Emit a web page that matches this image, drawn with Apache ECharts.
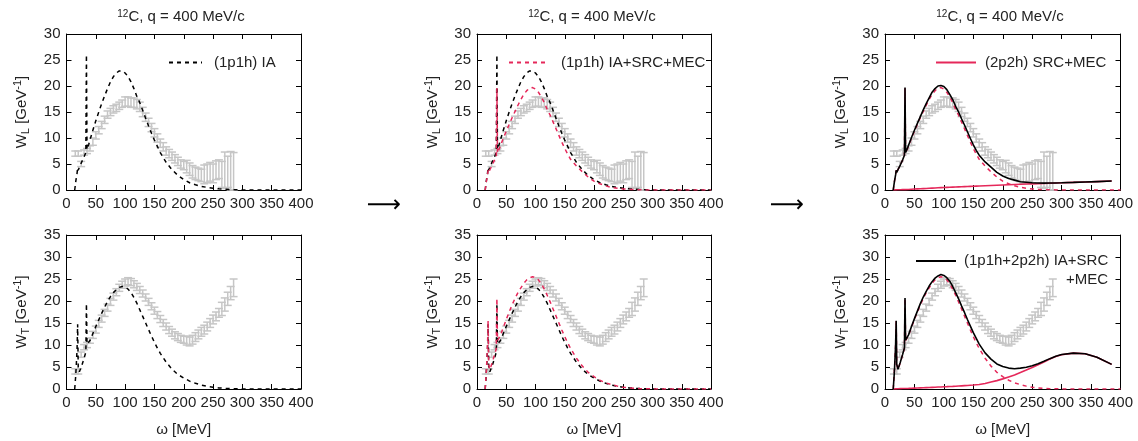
<!DOCTYPE html>
<html><head><meta charset="utf-8">
<script src="https://cdn.jsdelivr.net/npm/echarts/dist/echarts.min.js"></script>
<style>html,body{margin:0;padding:0;background:#fff}#c{width:1138px;height:441px}</style>
</head><body><div id="c"></div>
<script>
// ---------- DATA ----------
const omegaTheory = [14,16,18,19,20,22,26,30,33,34,35,38,40,45,50,55,60,65,70,75,80,85,90,95,100,105,110,115,120,125,130,135,140,145,150,155,160,170,180,190,200,210,220,230,240,250,260,270,280,290,300,320,340,360,385,400];

// W_L, (1p1h) IA  (black dashed)
const wlIA = [0,1.8,3.2,4.3,3.8,4.4,5.4,6.4,7.2,26,7.8,8.8,9.6,11.5,13.3,15,16.6,18.1,19.5,20.8,21.8,22.5,22.9,22.9,22.5,21.8,20.8,19.5,18,16.8,15.3,13.8,12.3,10.9,9.6,8.4,7.2,5.3,3.9,2.8,2.0,1.4,1.0,0.7,0.5,0.35,0.22,0.14,0.08,0.04,0.02,0,0,0,0,0];
// W_L, (1p1h) IA+SRC+MEC  (red dashed)
const wl1p1h = [0,1.6,2.9,3.8,3.4,3.9,4.8,5.8,6.6,19.6,7.1,7.9,8.5,10,11.3,12.6,13.9,15.1,16.3,17.4,18.4,19.1,19.6,19.7,19.4,18.8,17.9,16.8,15.5,14.4,13.1,11.8,10.5,9.2,8.0,6.9,5.9,4.6,3.5,2.5,1.7,1.2,0.8,0.5,0.35,0.2,0.12,0.07,0.04,0.02,0.01,0,0,0,0,0];
// W_L, (2p2h) SRC+MEC  (red solid)
const wl2p2h = [0,0.02,0.03,0.03,0.04,0.04,0.06,0.07,0.08,0.08,0.08,0.09,0.1,0.14,0.18,0.21,0.24,0.27,0.3,0.33,0.36,0.39,0.42,0.45,0.47,0.5,0.52,0.55,0.57,0.6,0.62,0.65,0.67,0.7,0.72,0.75,0.77,0.82,0.87,0.92,0.97,1.02,1.06,1.1,1.14,1.18,1.22,1.26,1.3,1.34,1.38,1.46,1.54,1.62,1.73,null];
// W_L, (1p1h+2p2h) total  (black solid)
const wlTotal = [0,1.6,2.9,3.8,3.4,3.9,4.8,5.8,6.7,19.7,7.2,8.0,8.6,10.1,11.5,12.8,14.1,15.4,16.6,17.7,18.8,19.5,20.0,20.1,19.9,19.3,18.4,17.4,16.1,15.0,13.7,12.5,11.2,9.9,8.7,7.6,6.7,5.4,4.4,3.4,2.7,2.2,1.9,1.6,1.5,1.38,1.34,1.33,1.34,1.36,1.39,1.46,1.54,1.62,1.73,null];

// W_T, (1p1h) IA  (black dashed)
const wtIA = [0,3.5,9,14.7,5,3.9,5.3,7.0,8.4,19.4,10.2,10.2,11.0,12.6,14.2,15.7,17.2,18.6,19.9,21.0,21.9,22.6,23.1,23.3,23.2,22.7,21.9,20.8,19.5,18.0,16.5,15.0,13.5,12.0,10.6,9.3,8.1,6.1,4.5,3.3,2.5,1.8,1.3,0.9,0.6,0.4,0.25,0.15,0.08,0.04,0.02,0,0,0,0,0];
// W_T, (1p1h) IA+SRC+MEC  (red dashed)
const wt1p1h = [0,4,10,15.5,5.5,4.4,6,7.8,9.2,20.6,11,11.2,12.2,14,15.8,17.5,19.1,20.6,21.9,23.0,24.0,24.8,25.3,25.5,25.3,24.8,23.9,22.7,21.3,19.8,18.2,16.6,15.0,13.4,11.9,10.5,9.2,7.0,5.2,3.8,2.8,2.0,1.4,1.0,0.65,0.4,0.25,0.15,0.08,0.04,0.02,0,0,0,0,0];
// W_T, (2p2h) SRC+MEC  (red solid)
const wt2p2h = [0,0.02,0.03,0.04,0.05,0.06,0.08,0.1,0.11,0.12,0.12,0.13,0.14,0.17,0.2,0.23,0.26,0.29,0.32,0.35,0.38,0.41,0.44,0.47,0.5,0.53,0.57,0.6,0.64,0.68,0.72,0.76,0.8,0.85,0.9,0.96,1.02,1.25,1.6,1.9,2.3,2.75,3.2,3.75,4.3,4.9,5.5,6.15,6.8,7.4,7.8,8.15,8.0,7.2,5.6,null];
// W_T, (1p1h+2p2h) total  (black solid)
const wtTotal = [0,4,10,15.5,5.6,4.5,6.1,7.9,9.3,20.7,11.1,11.3,12.3,14.2,16.0,17.7,19.4,20.9,22.2,23.4,24.4,25.2,25.7,26.0,25.8,25.3,24.5,23.3,21.9,20.5,18.9,17.4,15.8,14.3,12.8,11.5,10.2,8.2,6.8,5.7,5.1,4.75,4.6,4.75,4.95,5.3,5.75,6.3,6.9,7.45,7.85,8.15,8.0,7.2,5.6,null];

// Experimental data (grey error bars)
const omegaData = [15,20,25,30,35,40,45,50,55,60,65,70,75,80,85,90,95,100,105,110,115,120,125,130,135,140,145,150,155,160,165,170,175,180,185,190,195,200,205,210,215,220,225,230,235,240,245,250,255,260,265,270,275,280,285];
const wlData = [7.0,7.0,5.0,7.2,7.5,8.0,9.3,10.5,11.5,12.5,13.5,14.5,15.0,15.5,15.8,16.2,16.6,17.0,17.0,16.8,16.8,16.5,16.0,15.0,14.0,13.0,12.0,11.0,10.0,9.0,8.3,7.5,7.0,6.5,6.0,5.5,5.0,4.7,4.5,4.0,3.5,3.2,3.0,2.8,3.0,3.2,3.5,3.2,3.8,4.0,3.0,3.8,3.5,3.6,3.2];
const wlErr  = [0.5,0.5,0.5,0.5,0.5,0.5,0.7,0.7,0.7,0.7,0.7,0.7,0.7,0.7,0.7,0.7,0.7,0.9,0.9,0.9,0.9,0.9,0.9,0.9,0.8,0.8,0.8,0.8,0.8,0.8,0.8,0.8,0.8,0.8,0.8,0.8,0.8,0.8,1.2,1.2,1.2,1.2,1.2,1.2,1.8,1.8,1.8,1.8,1.8,1.8,2.5,3.5,3.0,3.8,4.0];
const wtData = [4.0,4.0,7.8,9.5,10.0,11.0,12.3,13.5,14.8,16.0,17.3,18.5,19.8,21.0,22.0,23.0,23.7,24.2,24.5,24.3,23.8,23.2,22.5,21.7,20.8,19.8,18.8,17.8,16.8,15.9,15.0,14.2,13.4,12.8,12.2,11.8,11.4,11.2,11.0,10.8,11.2,11.8,12.4,13.0,13.5,14.2,15.0,15.8,16.5,17.3,18.2,19.2,20.5,21.8,23.0];
const wtErr  = [0.6,0.6,0.6,0.6,0.6,0.6,0.8,0.8,0.8,0.8,0.8,0.8,0.8,0.8,0.8,0.8,0.8,0.8,0.8,0.8,0.8,0.8,0.8,0.8,0.8,0.8,0.8,0.8,0.8,0.8,0.8,0.8,0.8,0.8,0.8,0.8,0.8,0.8,1.0,1.0,1.0,1.0,1.0,1.0,1.0,1.0,1.0,1.0,1.0,1.0,1.5,1.5,1.5,1.5,2.0];

const xTickStep = 50, xMax = 400;
const yMaxL = 30, yMaxT = 35, yTickStep = 5;

// ---------- STYLE / LAYOUT ----------
const FONT = '"Liberation Sans", Arial, sans-serif';
const FS = 15;
const TXT = '#222';
const RED = '#e5285a';
const GREY = '#c6c6c6';
const GRIDS = [
  {left:66.5, top:34, width:234.5, height:156},
  {left:66.5, top:235, width:234.5, height:154},
  {left:477, top:34, width:234, height:156},
  {left:477, top:235, width:234, height:154},
  {left:885, top:34, width:235.5, height:156},
  {left:885, top:235, width:235.5, height:154}
];

const pairs = (xs, ys) => xs.map((x, i) => [x, ys[i]]);

const xAxes = [], yAxes = [];
GRIDS.forEach((g, i) => {
  const isBottom = i % 2 === 1;
  const common = {gridIndex:i, type:'value', splitLine:{show:false},
    axisLine:{show:true, onZero:false, lineStyle:{color:'#000', width:1}},
    axisTick:{show:true, inside:true, length:5, lineStyle:{color:'#000', width:1}}};
  xAxes.push(Object.assign({}, common, {position:'bottom', min:0, max:xMax, interval:xTickStep,
    axisLabel:{color:TXT, fontSize:FS, fontFamily:FONT, margin:6},
    name: isBottom ? 'ω [MeV]' : '', nameLocation:'middle', nameGap:33,
    nameTextStyle:{color:TXT, fontSize:FS, fontFamily:FONT}}));
  xAxes.push(Object.assign({}, common, {position:'top', min:0, max:xMax, interval:xTickStep, axisLabel:{show:false}}));
  const ymax = isBottom ? yMaxT : yMaxL;
  yAxes.push(Object.assign({}, common, {position:'left', min:0, max:ymax, interval:yTickStep,
    axisLabel:{color:TXT, fontSize:FS, fontFamily:FONT, margin:6},
    name: isBottom ? 'W{sub|T} [GeV{sup|-1}]' : 'W{sub|L} [GeV{sup|-1}]',
    nameLocation:'middle', nameRotate:90, nameGap:35,
    nameTextStyle:{color:TXT, fontSize:FS, fontFamily:FONT, lineHeight:19,
      rich:{sub:{fontSize:11, fontFamily:FONT, color:TXT, lineHeight:11, verticalAlign:'bottom'},
            sup:{fontSize:11, fontFamily:FONT, color:TXT, lineHeight:11, verticalAlign:'top'}}}}));
  yAxes.push(Object.assign({}, common, {position:'right', min:0, max:ymax, interval:yTickStep, axisLabel:{show:false}}));
});

function errSeries(g, vals, errs) {
  return {
    type:'custom', name:'data'+g, xAxisIndex:2*g, yAxisIndex:2*g, silent:true, z:1,
    data: omegaData.map((x, i) => [x, vals[i], errs[i]]),
    renderItem: (params, api) => {
      const x = api.value(0), y = api.value(1), e = api.value(2);
      const p1 = api.coord([x, Math.max(0, y - e)]);
      const p2 = api.coord([x, y + e]);
      const hw = 4;
      const style = {stroke:GREY, lineWidth:1.5};
      return {type:'group', children:[
        {type:'line', shape:{x1:p1[0], y1:p1[1], x2:p2[0], y2:p2[1]}, style},
        {type:'line', shape:{x1:p1[0]-hw, y1:p1[1], x2:p1[0]+hw, y2:p1[1]}, style},
        {type:'line', shape:{x1:p2[0]-hw, y1:p2[1], x2:p2[0]+hw, y2:p2[1]}, style}
      ]};
    }
  };
}
function lineSeries(name, g, ys, color, dashed, width, z) {
  return {type:'line', name, xAxisIndex:2*g, yAxisIndex:2*g, data:pairs(omegaTheory, ys),
    symbol:'none', showSymbol:false, silent:true, z:z, connectNulls:false,
    lineStyle:{color, width, type: dashed ? [4,4] : 'solid'}, itemStyle:{color}};
}

const series = [
  errSeries(0, wlData, wlErr), errSeries(1, wtData, wtErr),
  errSeries(2, wlData, wlErr), errSeries(3, wtData, wtErr),
  errSeries(4, wlData, wlErr), errSeries(5, wtData, wtErr),
  lineSeries('(1p1h) IA', 0, wlIA, '#000', true, 1.5, 3),
  lineSeries('IA T 1', 1, wtIA, '#000', true, 1.5, 3),
  lineSeries('IA L 2', 2, wlIA, '#000', true, 1.5, 3),
  lineSeries('(1p1h) IA+SRC+MEC', 2, wl1p1h, RED, true, 1.5, 4),
  lineSeries('IA T 2', 3, wtIA, '#000', true, 1.5, 3),
  lineSeries('1p1h T 2', 3, wt1p1h, RED, true, 1.5, 4),
  lineSeries('1p1h L 3', 4, wl1p1h, RED, true, 1.5, 3),
  lineSeries('(2p2h) SRC+MEC', 4, wl2p2h, RED, false, 1.6, 4),
  lineSeries('total L', 4, wlTotal, '#000', false, 1.6, 5),
  lineSeries('1p1h T 3', 5, wt1p1h, RED, true, 1.5, 3),
  lineSeries('2p2h T 3', 5, wt2p2h, RED, false, 1.6, 4),
  lineSeries('(1p1h+2p2h) IA+SRC+MEC', 5, wtTotal, '#000', false, 1.6, 5)
];

function legend(name, left, top, w, pad, fmt) {
  return {data:[name], left, top, itemWidth:w, itemHeight:14, selectedMode:false, padding:0,
    itemStyle:{opacity:0},
    formatter: fmt || (n => n),
    textStyle:{color:TXT, fontSize:FS, fontFamily:FONT, padding:[0,0,0,pad]}};
}

const titleText = '{sup|12}C, q = 400 MeV/c';
const titleStyle = (cx) => ({type:'text', x:cx, y:17, silent:true,
  style:{text:titleText, align:'center', verticalAlign:'middle', fill:TXT, fontSize:FS, fontFamily:FONT,
    rich:{sup:{fontSize:10, fontFamily:FONT, fill:TXT, verticalAlign:'top', lineHeight:10}}}});

const option = {
  animation:false,
  backgroundColor:'#fff',
  grid: GRIDS,
  xAxis: xAxes,
  yAxis: yAxes,
  legend: [
    legend('(1p1h) IA', 168, 55, 33, 7),
    legend('(1p1h) IA+SRC+MEC', 508, 55, 39, 8),
    legend('(2p2h) SRC+MEC', 935, 55, 40, 4),
    legend('(1p1h+2p2h) IA+SRC+MEC', 915, 253.5, 40, 3, () => '(1p1h+2p2h) IA+SRC')
  ],
  graphic: [
    titleStyle(181), titleStyle(592), titleStyle(1000),
    {type:'text', x:1108, y:280, silent:true, style:{text:'+MEC', align:'right', verticalAlign:'middle', fill:TXT, fontSize:FS, fontFamily:FONT}},
    {type:'text', x:384, y:206, silent:true, style:{text:'⟶', align:'center', verticalAlign:'middle', fill:'#000', fontSize:24, fontFamily:'"DejaVu Sans"'}},
    {type:'text', x:787, y:206, silent:true, style:{text:'⟶', align:'center', verticalAlign:'middle', fill:'#000', fontSize:24, fontFamily:'"DejaVu Sans"'}}
  ],
  series
};
const chart = echarts.init(document.getElementById('c'), null, {renderer:'canvas'});
chart.setOption(option);
</script></body></html>
